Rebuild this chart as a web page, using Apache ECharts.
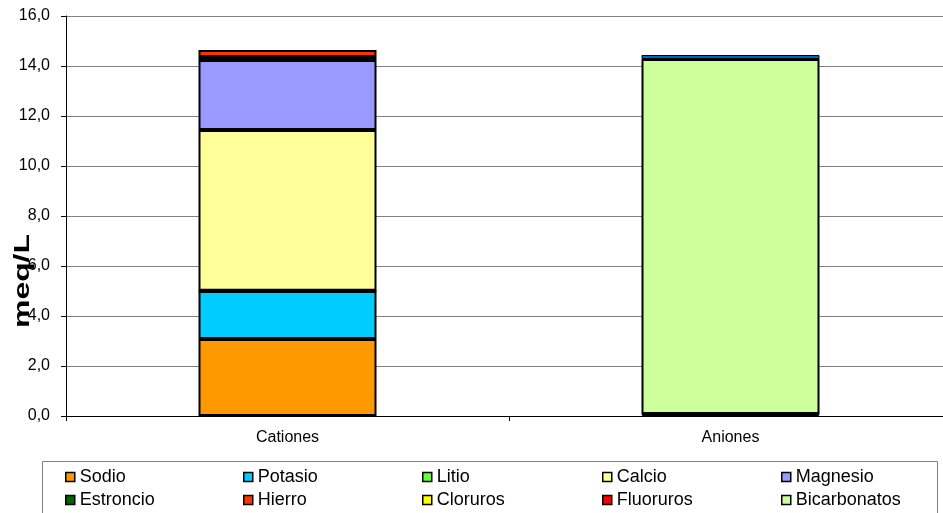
<!DOCTYPE html>
<html>
<head>
<meta charset="utf-8">
<title>meq/L</title>
<script src="https://cdn.jsdelivr.net/npm/echarts@6/dist/echarts.min.js"></script>
<style>
  html, body { margin: 0; padding: 0; background: #ffffff; overflow: hidden; }
  /* The plot runs a few pixels past the right edge of the window */
  #chart { width: 952px; height: 513px; }
</style>
</head>
<body>
<div id="chart"></div>
<script>
// Categories and y-axis ticks
var categories = ['Cationes', 'Aniones'];
var yTicks = [0, 2, 4, 6, 8, 10, 12, 14, 16];

// Ion concentrations in meq/L (cations in the first column, anions in the second)
var sodio        = [3.08, null];
var potasio      = [1.92, null];
var litio        = [0.01, null];
var calcio       = [6.43, null];
var magnesio     = [2.80, null];
var estroncio    = [0.12, null];
var hierro       = [0.28, null];
var cloruros     = [null, 0.06];
var fluoruros    = [null, 0.02];
var bicarbonatos = [null, 14.20];
var sulfatos     = [null, 0.16];

var seriesNames  = ['Sodio', 'Potasio', 'Litio', 'Calcio', 'Magnesio', 'Estroncio', 'Hierro', 'Cloruros', 'Fluoruros', 'Bicarbonatos', 'Sulfatos'];
var seriesValues = [sodio, potasio, litio, calcio, magnesio, estroncio, hierro, cloruros, fluoruros, bicarbonatos, sulfatos];
var seriesColors = ['#FF9900', '#00CCFF', '#66FF33', '#FFFF99', '#9999FF', '#006600', '#FF3300', '#FFFF00', '#FF0000', '#CCFF99', '#0066CC'];
// Thin top segment gets a thinner outline so its fill stays visible
var seriesBorders = [2, 2, 2, 2, 2, 2, 2, 2, 2, 2, 1];

// Legend laid out in five columns of two entries each
var legendColumns = [
  ['Sodio', 'Estroncio'],
  ['Potasio', 'Hierro'],
  ['Litio', 'Cloruros'],
  ['Calcio', 'Fluoruros'],
  ['Magnesio', 'Bicarbonatos']
];
var legendLeft = [65, 243, 422, 602, 781];

var FONT = '"Liberation Sans", Arial, sans-serif';

var series = seriesNames.map(function (name, i) {
  return {
    name: name,
    type: 'bar',
    stack: 'ions',
    barWidth: 178,
    data: seriesValues[i],
    itemStyle: { color: seriesColors[i], borderColor: '#000000', borderWidth: seriesBorders[i] },
    emphasis: { disabled: true },
    animation: false
  };
});

var legends = legendColumns.map(function (col, i) {
  return {
    orient: 'vertical',
    left: legendLeft[i],
    top: 467,
    padding: 0,
    itemGap: 3,
    itemWidth: 9,
    itemHeight: 9,
    icon: 'rect',
    selectedMode: false,
    data: col,
    itemStyle: { borderColor: '#000000', borderWidth: 1.5 },
    textStyle: { fontFamily: FONT, fontSize: 18, color: '#000000', lineHeight: 20 }
  };
});

var chart = echarts.init(document.getElementById('chart'), null, { renderer: 'canvas' });
chart.setOption({
  backgroundColor: '#ffffff',
  animation: false,
  grid: { left: 66, top: 16, right: 0, bottom: 97, containLabel: false },
  legend: legends,
  xAxis: {
    type: 'category',
    data: categories,
    boundaryGap: true,
    axisLine: { lineStyle: { color: '#000000', width: 1 } },
    axisTick: { show: true, length: 5, lineStyle: { color: '#000000' } },
    axisLabel: { fontFamily: FONT, fontSize: 16, color: '#000000', margin: 14 }
  },
  yAxis: {
    type: 'value',
    min: yTicks[0],
    max: yTicks[yTicks.length - 1],
    interval: yTicks[1] - yTicks[0],
    axisLine: { show: true, lineStyle: { color: '#000000', width: 1 } },
    axisTick: { show: true, length: 5, lineStyle: { color: '#000000' } },
    axisLabel: {
      fontFamily: FONT, fontSize: 16, color: '#000000', margin: 16,
      formatter: function (v) { return v.toFixed(1).replace('.', ','); }
    },
    splitLine: { show: true, lineStyle: { color: '#808080', width: 1 } }
  },
  graphic: [
    {
      type: 'rect',
      silent: true,
      shape: { x: 42.5, y: 461.5, width: 895, height: 80 },
      style: { fill: 'none', stroke: '#808080', lineWidth: 1 }
    },
    {
      type: 'text',
      silent: true,
      x: 23,
      y: 281,
      rotation: Math.PI / 2,
      scaleX: 1.45,
      style: {
        text: 'meq/L',
        font: 'bold 22px ' + FONT,
        fill: '#000000',
        textAlign: 'center',
        textVerticalAlign: 'middle'
      }
    }
  ],
  series: series
});
</script>
</body>
</html>
